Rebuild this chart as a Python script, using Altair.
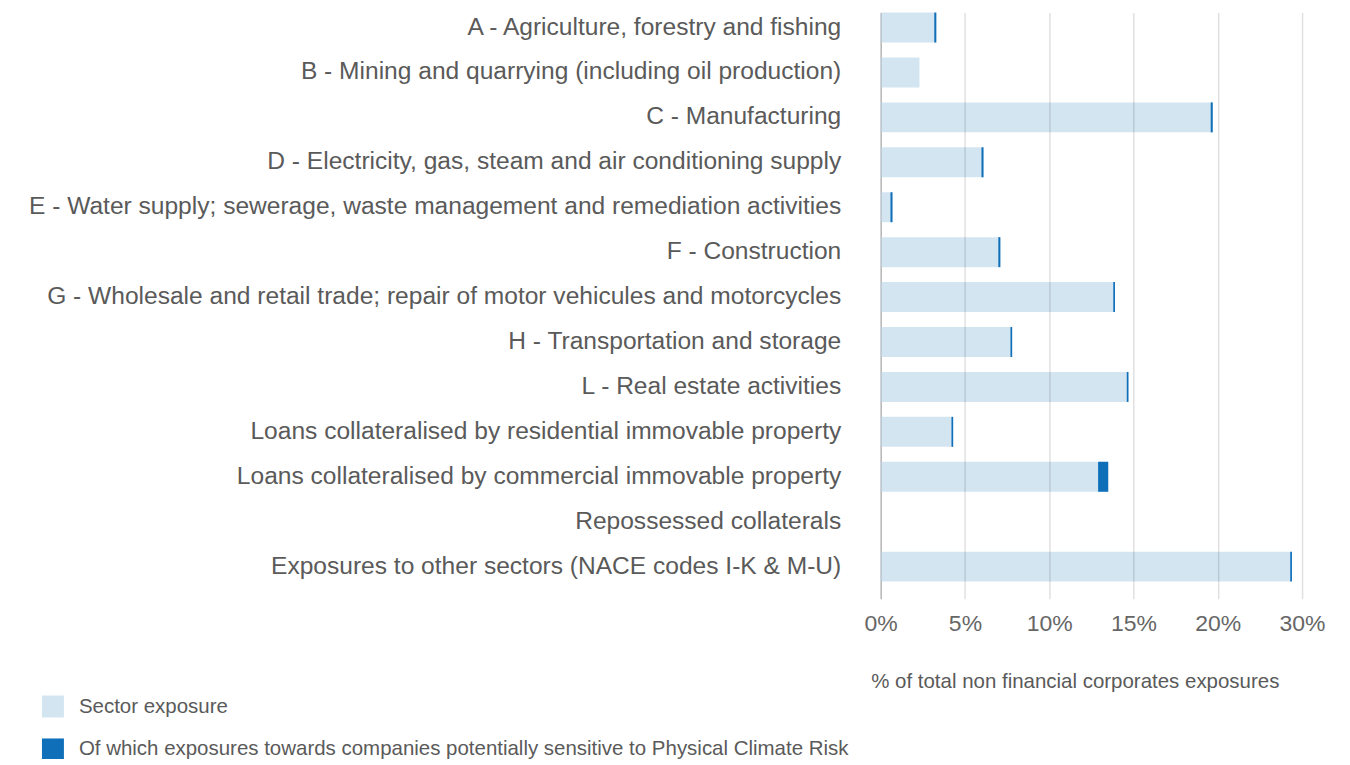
import altair as alt
import pandas as pd

sectors = [
    "A - Agriculture, forestry and fishing",
    "B - Mining and quarrying (including oil production)",
    "C - Manufacturing",
    "D - Electricity, gas, steam and air conditioning supply",
    "E - Water supply; sewerage, waste management and remediation activities",
    "F - Construction",
    "G - Wholesale and retail trade; repair of motor vehicules and motorcycles",
    "H - Transportation and storage",
    "L - Real estate activities",
    "Loans collateralised by residential immovable property",
    "Loans collateralised by commercial immovable property",
    "Repossessed collaterals",
    "Exposures to other sectors (NACE codes I-K & M-U)",
]
sector_exposure = [3.3, 2.3, 19.7, 6.1, 0.7, 7.1, 13.9, 7.8, 14.7, 4.3, 13.5, 0.0, 24.4]
sensitive_exposure = [0.12, 0.0, 0.12, 0.12, 0.12, 0.12, 0.1, 0.1, 0.1, 0.1, 0.6, 0.0, 0.1]

tick_values = [0, 5, 10, 15, 20, 25]
tick_labels = ["0%", "5%", "10%", "15%", "20%", "30%"]

series_names = [
    "Sector exposure",
    "Of which exposures towards companies potentially sensitive to Physical Climate Risk",
]
series_colors = ["#d4e5f2", "#0f6fb9"]

df = pd.DataFrame({
    "sector": sectors,
    "exposure": sector_exposure,
    "sensitive": sensitive_exposure,
})

FONT = "Liberation Sans"
TEXT = "#5a5a5a"

label_expr = "[" + ",".join("'%s'" % t for t in tick_labels) + "][indexof([" + ",".join(str(v) for v in tick_values) + "], datum.value)]"

y_enc = alt.Y(
    "sector:N",
    sort=sectors,
    scale=alt.Scale(paddingInner=0.333, paddingOuter=0.19, align=0),
    axis=alt.Axis(
        title=None, ticks=False, labelFontSize=24.6, labelColor=TEXT, labelFont=FONT,
        labelPadding=40, labelLimit=1000, domain=True, domainColor="#cfcfcf",
        domainWidth=1.5, grid=False,
    ),
)

color_scale = alt.Scale(domain=series_names, range=series_colors)
legend = alt.Legend(
    title=None, orient="none", legendX=-840, legendY=684, symbolType="square",
    symbolSize=484, symbolStrokeWidth=0, symbolOpacity=1, labelFontSize=20.5, labelColor=TEXT,
    labelFont=FONT, rowPadding=21, labelOffset=15, direction="vertical", padding=0,
    labelLimit=1000,
)

base = alt.Chart(df)

light = base.transform_calculate(series="'%s'" % series_names[0]).mark_bar().encode(
    y=y_enc,
    x=alt.X(
        "exposure:Q",
        scale=alt.Scale(domain=[0, 25], nice=False),
        axis=alt.Axis(
            title="% of total non financial corporates exposures", titleFontSize=20.5,
            titleColor=TEXT, titleFont=FONT, titleFontWeight="normal", titlePadding=36,
            titleAnchor="start", titleAlign="left", titleX=-10,
            values=tick_values, labelExpr=label_expr, labelFontSize=23, labelColor="#666666",
            labelFont=FONT, labelPadding=14, labelFlush=False, ticks=False, domain=False,
            grid=True, gridColor="#000000", gridOpacity=0.12, gridWidth=1.5, zindex=1,
        ),
    ),
    color=alt.Color("series:N", scale=color_scale, legend=legend),
)

dark = base.transform_calculate(
    series="'%s'" % series_names[1], start="datum.exposure - datum.sensitive"
).mark_bar().encode(
    y=alt.Y("sector:N", sort=sectors),
    x="start:Q",
    x2="exposure:Q",
    color=alt.Color("series:N", scale=color_scale, legend=legend),
)

chart = alt.layer(light, dark).properties(
    width=422, height=587,
    autosize=alt.AutoSizeParams(type="none"),
    padding={"left": 874, "top": 4, "right": 40, "bottom": 160},
).configure(font=FONT, view=alt.ViewConfig(stroke="transparent", strokeWidth=0))

chart.save("out.html", embed_options={"renderer": "svg", "actions": False})
